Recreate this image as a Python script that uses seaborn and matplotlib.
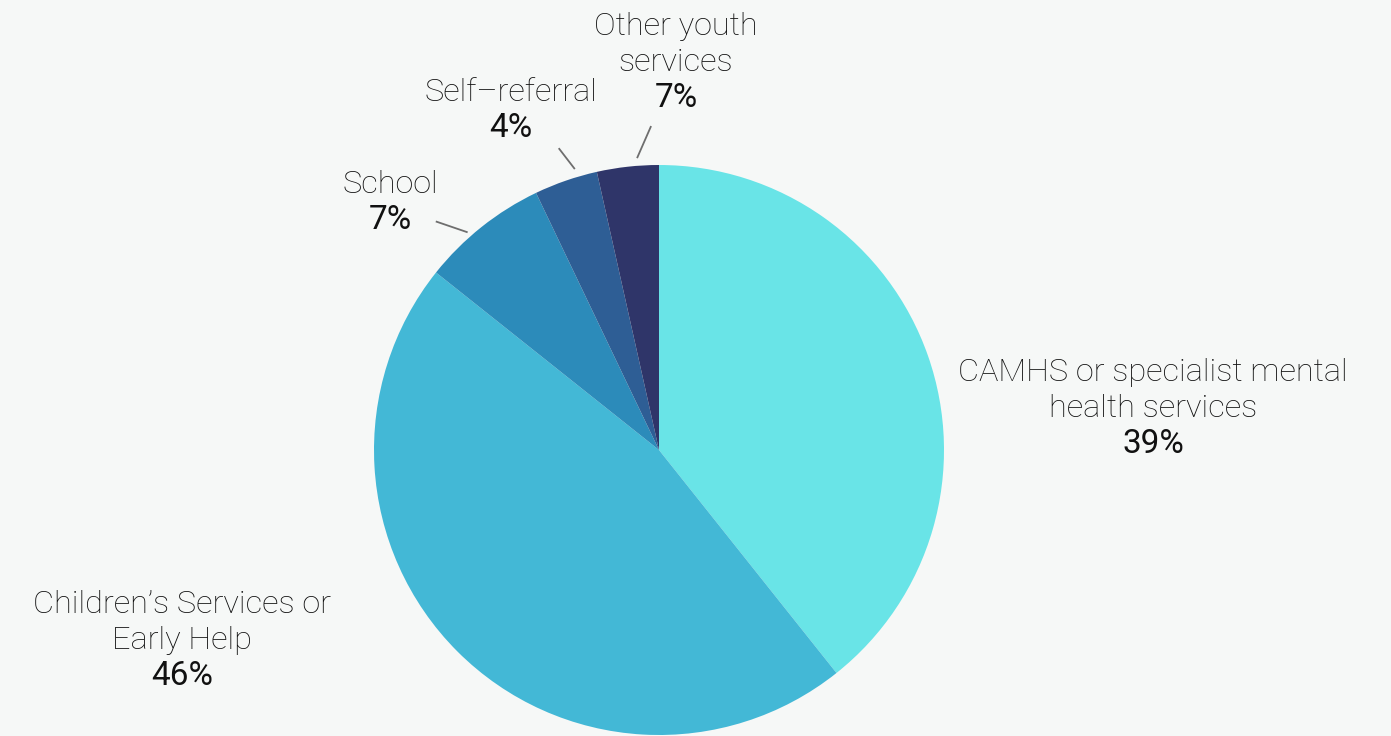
import numpy as np
import matplotlib
matplotlib.use("Agg")
import matplotlib.pyplot as plt
import seaborn as sns

# ---- data ----
categories = ["CAMHS or specialist mental\nhealth services",
              "Children\u2019s Services or\nEarly Help",
              "School",
              "Self\u2013referral",
              "Other youth\nservices"]
shares = [39.3, 46.4, 7.2, 3.6, 3.5]          # slice sizes
pct_labels = ["39%", "46%", "7%", "4%", "7%"]  # printed labels

# ---- style ----
colors = ["#69E4E7", "#43B8D6", "#2C8BBA", "#2E5E95", "#2F3569"]
bg = "#F6F8F7"
txt_color = "#111111"

sns.set_theme(style="white")
plt.rcParams["font.family"] = ["Roboto", "DejaVu Sans"]

W, H = 1391, 736
CX, CY, R = 659, 450, 285   # pie centre / radius in pixels


def px(x, y):
    return ((x - CX) / R, (CY - y) / R)


fig = plt.figure(figsize=(W / 100, H / 100), dpi=100, facecolor=bg)
ax = fig.add_axes([0, 0, 1, 1])
ax.set_facecolor(bg)

pal = sns.color_palette(colors)
wedges, _ = ax.pie(shares, colors=pal, startangle=90, counterclock=False,
                   radius=1.0, wedgeprops=dict(linewidth=0))

ax.set_aspect("auto")
ax.set_xlim(-CX / R, (W - CX) / R)
ax.set_ylim(-(H - CY) / R, CY / R)
ax.axis("off")

# label layout: (centre x px, first-line baseline px)
layout = {
    0: (1153, 381),
    1: (182, 613),
    2: (390, 193),
    3: (511, 101),
    4: (676, 35),
}
line_gap = 36
fs_name = 23.4
fs_pct = 24.0
for i, (x, y0) in layout.items():
    lines = categories[i].split("\n")
    for k, ln in enumerate(lines):
        ax.text(*px(x, y0 + k * line_gap), ln, ha="center", va="baseline",
                fontsize=fs_name, fontweight="light", color=txt_color)
    ax.text(*px(x, y0 + len(lines) * line_gap), pct_labels[i], ha="center",
            va="baseline", fontsize=fs_pct, fontweight="normal", color=txt_color)

# leader lines: (index, start r, start angle offset, end r, end angle offset)
leaders = [(2, 1.121, -5.8, 1.017, -2.8),
           (3, 1.116, 0.7, 1.029, 2.4),
           (4, 1.137, 4.9, 1.027, 2.0)]
for idx, r0, a0, r1, a1 in leaders:
    w = wedges[idx]
    mid = (w.theta1 + w.theta2) / 2.0
    th0 = np.deg2rad(mid - a0)
    th1 = np.deg2rad(mid - a1)
    ax.plot([r0 * np.cos(th0), r1 * np.cos(th1)],
            [r0 * np.sin(th0), r1 * np.sin(th1)],
            color="#6E6E6E", lw=1.3, solid_capstyle="butt")

fig.savefig("out.png", dpi=100, facecolor=bg)
